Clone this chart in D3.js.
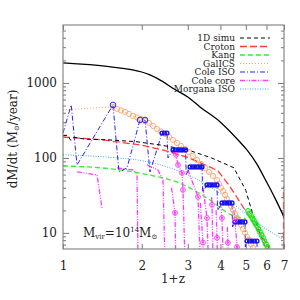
<!DOCTYPE html>
<html>
<head>
<meta charset="utf-8">
<script src="https://cdn.jsdelivr.net/npm/d3@7"></script>
<style>
body { margin: 0; background: #fff; }
text { font-family: "DejaVu Serif", serif; fill: #222; }
.tick line { stroke: #777; }
</style>
</head>
<body>
<svg id="chart" width="300" height="300"></svg>
<script>
// values, x = 1+z, y = dM/dt in Msun/yr
const fitCurve = [[1,1850],[1.5,1650],[2,1400],[2.15,1280],[2.4,1050],[2.63,850],[3,650],[3.34,479],[4,300],[4.75,163],[5.05,128],[5.5,84],[6,48],[6.5,28],[7,16.3]];
const simu1D = [[1,200],[1.04,200],[1.07,172],[1.1,188],[1.22,178],[1.5,174],[1.9,165],[2.35,149],[3,128],[3.7,100],[4.5,74],[5,37],[5.3,18.5],[5.8,8],[6.0,5.5]];
const croton = [[1,190],[1.4,175],[2,148],[2.4,128],[3,102],[3.9,68],[4.3,44],[5.05,18.5],[6.1,6.6],[6.4,3],[6.97,3],[6.97,42]];
const kang = [[1,78],[1.5,72],[2.15,59],[2.8,46],[3.65,27.5],[4.4,17.4],[5.0,15.5]];
const kangPts = [[5.10,19.7],[5.167,18.2],[5.236,16.9],[5.305,15.6],[5.375,14.5],[5.444,13.4],[5.519,12.4],[5.592,11.3],[5.666,10.3],[5.741,9.4],[5.819,8.6],[5.896,7.8],[5.973,7.1],[6.053,6.5]];
const galicsStart = [1,436];
const galicsPts = [[1.553,479],[1.609,450],[1.667,430],[1.726,411],[1.788,386],[1.852,363],[1.919,347],[1.987,331],[2.059,311],[2.133,293],[2.209,267],[2.288,244],[2.371,226],[2.455,209],[2.543,191],[2.634,174],[2.729,158],[2.826,145],[2.928,132],[3.032,120],[3.141,106],[3.254,94],[3.371,83],[3.491,73.6],[3.617,65],[3.746,57.5],[3.881,50.9],[3.950,45],[4.020,39.8],[4.091,36.3],[4.164,32.1],[4.238,28.4],[4.313,25.1],[4.389,22.9],[4.468,20.3],[4.548,17.9],[4.628,15.8],[4.710,14.5],[4.794,12.8],[4.879,11.3],[4.966,10],[5.053,8.8],[5.144,8.1],[5.236,7.1],[5.329,6.3]];
const coleIso = [[1,215],[1.075,509],[1.131,80.7],[1.553,509],[1.637,65],[1.757,73.6],[1.970,321],[2.059,321],[2.151,65],[2.391,215],[2.499,215],[2.52,100],[2.634,128],[2.942,128],[2.96,60],[3.06,75.9],[3.401,75.9],[3.42,35],[3.553,43.7],[3.881,43.7],[3.9,20],[4.055,25.1],[4.429,25.1],[4.45,12],[4.548,14],[4.966,14],[4.98,6.5],[5.053,7.8],[5.519,7.8],[5.53,3]];
const coleIsoPeaks = [[1.553,509],[1.970,321],[2.059,321]];
const coleIsoPts = [[2.391,215],[2.444,215],[2.499,215],
  [2.634,128],[2.693,128],[2.753,128],[2.814,128],[2.876,128],[2.942,128],
  [3.060,75.9],[3.128,75.9],[3.198,75.9],[3.268,75.9],[3.342,75.9],[3.401,75.9],
  [3.553,43.7],[3.633,43.7],[3.714,43.7],[3.796,43.7],[3.881,43.7],
  [4.055,25.1],[4.146,25.1],[4.238,25.1],[4.332,25.1],[4.429,25.1],
  [4.548,14],[4.649,14],[4.752,14],[4.857,14],[4.966,14],
  [5.053,7.8],[5.167,7.8],[5.282,7.8],[5.398,7.8],[5.519,7.8]];
const coleCore = [
  [[1.131,65],[1.349,59.3],[1.41,21.5]],
  [[1.609,73.6],[1.852,69.2],[1.919,59.3],[1.936,4]],
  [[2.095,80.7],[2.308,69.2],[2.412,50.9],[2.455,4]],
  [[2.634,130],[2.704,110],[2.753,80.7],[2.851,63.1],[2.876,37.4],[2.928,4]],
  [[2.6,40],[2.681,18.5],[2.7,4]],
  [[3.0,70],[3.283,30.2],[3.35,4]],
  [[3.43,40],[3.553,15.8],[3.6,4]],
  [[3.35,25],[3.43,7.4],[3.44,4]],
  [[3.7,30],[3.714,23.7],[3.75,4]],
  [[3.85,20],[3.881,8.6],[3.9,4]],
  [[4.0,25],[4.055,15.8],[4.1,4]],
  [[4.25,12],[4.27,7.4],[4.3,4]],
  [[4.5,20],[4.548,14.9],[4.628,6.5],[4.65,4]]
];
const coleCorePts = [[2.704,110],[2.753,80.7],[2.851,63.1],[2.876,37.4],[2.681,18.5],[3.283,30.2],[3.553,15.8],[3.43,7.4],[3.714,23.7],[3.881,8.6],[4.055,15.8],[4.27,7.4],[4.548,14.9],[4.628,6.5]];
const morgana = [[1,110],[1.5,102],[2,92],[2.35,81],[2.88,63],[3.5,45],[4,33],[4.5,24],[5,18],[5.83,12],[7,8.1]];

const xTicks = [1, 2, 3, 4, 5, 6, 7];
const yTicks = [10, 100, 1000];
const yMinor = [7, 8, 9, 20, 30, 40, 50, 60, 70, 80, 90, 200, 300, 400, 500, 600, 700, 800, 900, 2000, 3000, 4000, 5000];

const legendNames = ["1D simu", "Croton", "Kang", "GalICS", "Cole ISO", "Cole core", "Morgana ISO"];
const legendColors = ["#000", "#ff3b3b", "#33f033", "#ffa46f", "#2424ff", "#ff3cff", "#36aaff"];
const legendDash = ["4,3", "7,3", "5,3", "1,2", "5,2,1,2", "5,1.5,1,1.5,1,1.5", "1,1.5"];
const legendWidth = [1, 1.3, 1.3, 1, 1, 1.3, 1];

const margin = { top: 25, right: 16, bottom: 51, left: 63 },
  width = 300 - margin.left - margin.right,
  height = 300 - margin.top - margin.bottom;

const svg = d3.select("#chart")
  .append("g")
  .attr("transform", "translate(" + margin.left + "," + margin.top + ")");

const x = d3.scaleLog().domain([1, 7]).range([0, width]);
const y = d3.scaleLog().domain([6.1, 5930]).range([height, 0]);

svg.append("clipPath").attr("id", "clip")
  .append("rect").attr("width", width).attr("height", height);

// axes, ticks pointing inside
svg.append("g")
  .attr("transform", "translate(0," + height + ")")
  .call(d3.axisBottom(x).tickValues(xTicks).tickSize(-5).tickPadding(12).tickFormat(d3.format("d")))
  .call(g => g.select(".domain").remove());
svg.append("g")
  .call(d3.axisTop(x).tickValues(xTicks).tickSize(-5).tickFormat(""))
  .call(g => g.select(".domain").remove());
svg.append("g")
  .call(d3.axisLeft(y).tickValues(yTicks).tickSize(-6).tickPadding(6).tickFormat(d3.format("d")))
  .call(g => g.select(".domain").remove());
svg.append("g")
  .call(d3.axisLeft(y).tickValues(yMinor).tickSize(-3).tickFormat(""))
  .call(g => g.select(".domain").remove());
svg.append("g")
  .attr("transform", "translate(" + width + ",0)")
  .call(d3.axisRight(y).tickValues(yTicks).tickSize(-6).tickFormat(""))
  .call(g => g.select(".domain").remove());
svg.append("g")
  .attr("transform", "translate(" + width + ",0)")
  .call(d3.axisRight(y).tickValues(yMinor).tickSize(-3).tickFormat(""))
  .call(g => g.select(".domain").remove());
svg.selectAll(".tick text").attr("font-size", 12).attr("font-family", "DejaVu Serif").attr("fill", "#222");

const plot = svg.append("g").attr("clip-path", "url(#clip)");

const line = d3.line().x(d => x(d[0])).y(d => y(d[1]));
const smooth = d3.line().x(d => x(d[0])).y(d => y(d[1])).curve(d3.curveMonotoneX);

function drawLine(data, gen, i) {
  plot.append("path")
    .datum(data)
    .attr("d", gen)
    .attr("fill", "none")
    .attr("stroke", legendColors[i])
    .attr("stroke-width", legendWidth[i])
    .attr("stroke-dasharray", legendDash[i]);
}

drawLine(morgana, smooth, 6);
drawLine(kang, smooth, 2);
drawLine([galicsStart].concat(galicsPts), line, 3);
coleCore.forEach(seg => drawLine(seg, line, 5));
drawLine(coleIso, line, 4);
drawLine(croton, line, 1);
drawLine(simu1D, line, 0);

plot.append("path")
  .datum(fitCurve)
  .attr("d", smooth)
  .attr("fill", "none")
  .attr("stroke", "#000")
  .attr("stroke-width", 1.3);

plot.selectAll(".galics").data(galicsPts).enter().append("circle")
  .attr("cx", d => x(d[0])).attr("cy", d => y(d[1])).attr("r", 2.6)
  .attr("fill", "none").attr("stroke", "#ffa46f").attr("stroke-width", 0.9);

plot.selectAll(".kangpt").data(kangPts).enter().append("circle")
  .attr("cx", d => x(d[0])).attr("cy", d => y(d[1])).attr("r", 2.3)
  .attr("fill", "none").attr("stroke", "#22e822").attr("stroke-width", 1.1);

plot.selectAll(".isopeak").data(coleIsoPeaks).enter().append("circle")
  .attr("cx", d => x(d[0])).attr("cy", d => y(d[1])).attr("r", 2.8)
  .attr("fill", "none").attr("stroke", "#2424ff").attr("stroke-width", 1);

plot.selectAll(".isopt").data(coleIsoPts).enter().append("circle")
  .attr("cx", d => x(d[0])).attr("cy", d => y(d[1])).attr("r", 1.9)
  .attr("fill", "none").attr("stroke", "#1414e6").attr("stroke-width", 1.4);

const corePt = plot.selectAll(".corept").data(coleCorePts).enter().append("g")
  .attr("transform", d => "translate(" + x(d[0]) + "," + y(d[1]) + ")");
corePt.append("circle").attr("r", 2.4)
  .attr("fill", "none").attr("stroke", "#ff40ff").attr("stroke-width", 1);
corePt.append("path").attr("d", "M-1.3,0H1.3M0,-1.3V1.3")
  .attr("stroke", "#ff40ff").attr("stroke-width", 0.9);

// frame
svg.append("rect")
  .attr("width", width).attr("height", height)
  .attr("fill", "none").attr("stroke", "#888").attr("stroke-width", 1.2);

// legend
const leg = svg.append("g").attr("transform", "translate(" + (235 - margin.left) + "," + (38 - margin.top) + ")");
legendNames.forEach((name, i) => {
  const row = leg.append("g").attr("transform", "translate(0," + (i * 8.5) + ")");
  row.append("text").attr("x", 0).attr("y", 3).attr("text-anchor", "end")
    .attr("font-size", 9).text(name);
  row.append("line").attr("x1", 5).attr("x2", 35).attr("y1", 0).attr("y2", 0)
    .attr("stroke", legendColors[i]).attr("stroke-width", legendWidth[i])
    .attr("stroke-dasharray", legendDash[i]);
});

// annotation
const ann = svg.append("text").attr("x", 83 - margin.left).attr("y", 237 - margin.top).attr("font-size", 12);
ann.append("tspan").text("M");
ann.append("tspan").attr("font-size", 7).attr("dy", 2).text("vir");
ann.append("tspan").attr("dy", -2).text("=10");
ann.append("tspan").attr("font-size", 7).attr("dy", -5).text("14");
ann.append("tspan").attr("dy", 5).text("M");
ann.append("tspan").attr("font-size", 7).attr("dy", 2).text("⊙");

// axis titles
svg.append("text").attr("x", 173 - margin.left).attr("y", 283 - margin.top)
  .attr("text-anchor", "middle").attr("font-size", 12)
  .text("1+z");

const yl = svg.append("text")
  .attr("transform", "translate(" + (17 - margin.left) + "," + (139 - margin.top) + ") rotate(-90)")
  .attr("text-anchor", "middle").attr("font-size", 12);
yl.append("tspan").text("dM/dt (M");
yl.append("tspan").attr("font-size", 7).attr("dy", 2).text("⊙");
yl.append("tspan").attr("dy", -2).text("/year)");
</script>
</body>
</html>
